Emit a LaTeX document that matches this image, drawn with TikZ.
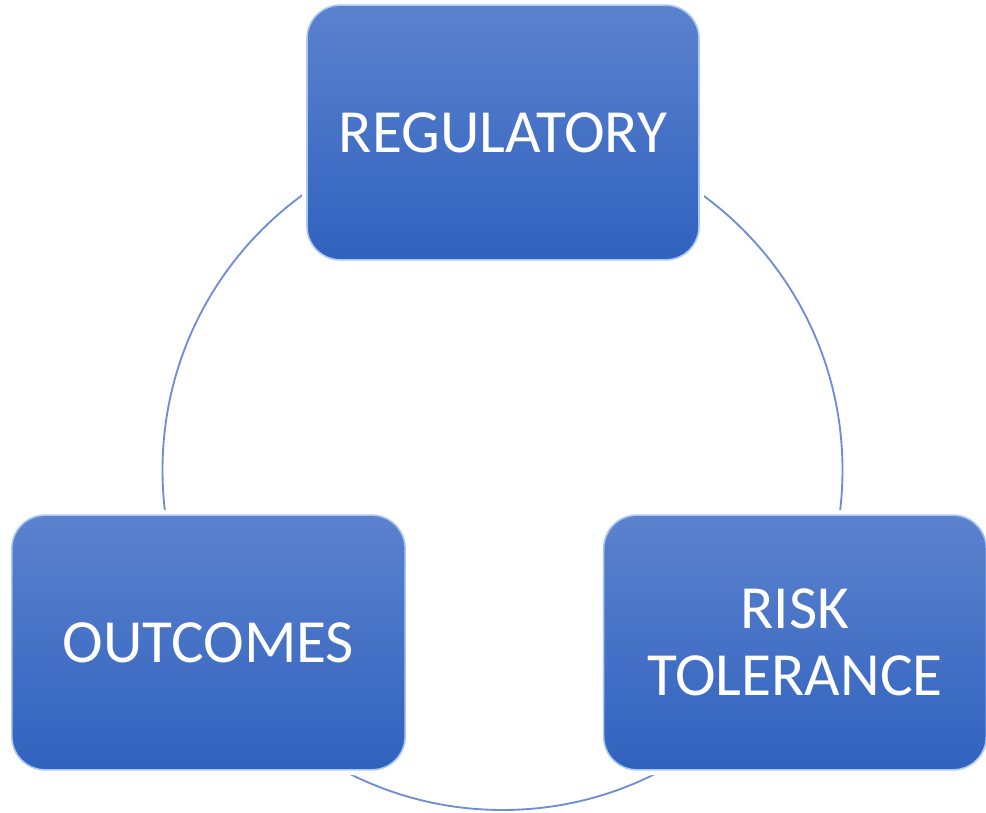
\documentclass[tikz,border=0pt]{standalone}
\usepackage{fontspec}
\setmainfont{Carlito}
\begin{document}
\definecolor{boxtop}{RGB}{92,130,206}
\definecolor{boxbot}{RGB}{48,98,190}
\definecolor{ringcol}{RGB}{112,142,214}
\definecolor{glint}{RGB}{170,200,245}
\begin{tikzpicture}[x=0.75pt,y=-0.75pt,
  topicbox/.style={rounded corners=25pt, top color=boxtop, bottom color=boxbot,
    draw=glint, line width=1.2pt, text=white, align=center,
    font=\fontsize{46}{50}\selectfont, inner sep=0pt,
    minimum height=191pt},
  ring/.style={draw=ringcol, line width=1.4pt}]
  \useasboundingbox (0,0) rectangle (986,813);
  % connecting ring behind the three boxes
  \draw[ring] (502.5,470) circle[radius=340];
  % white halo so the ring stops just short of each box
  \foreach \a/\b/\c/\d in {307/5/699/260, 12/515/405/770, 602/515/985/770}{
    \fill[white, rounded corners=28pt] (\a-5,\b-5) rectangle (\c+5,\d+5);
  }
  \node[topicbox, minimum width=294pt] (reg) at (503,132.5) {REGULATORY};
  \node[topicbox, minimum width=295pt] (out) at (208.5,642.5) {OUTCOMES};
  \node[topicbox, minimum width=287pt] (risk) at (795,642.5) {RISK\\TOLERANCE};
\end{tikzpicture}
\end{document}
